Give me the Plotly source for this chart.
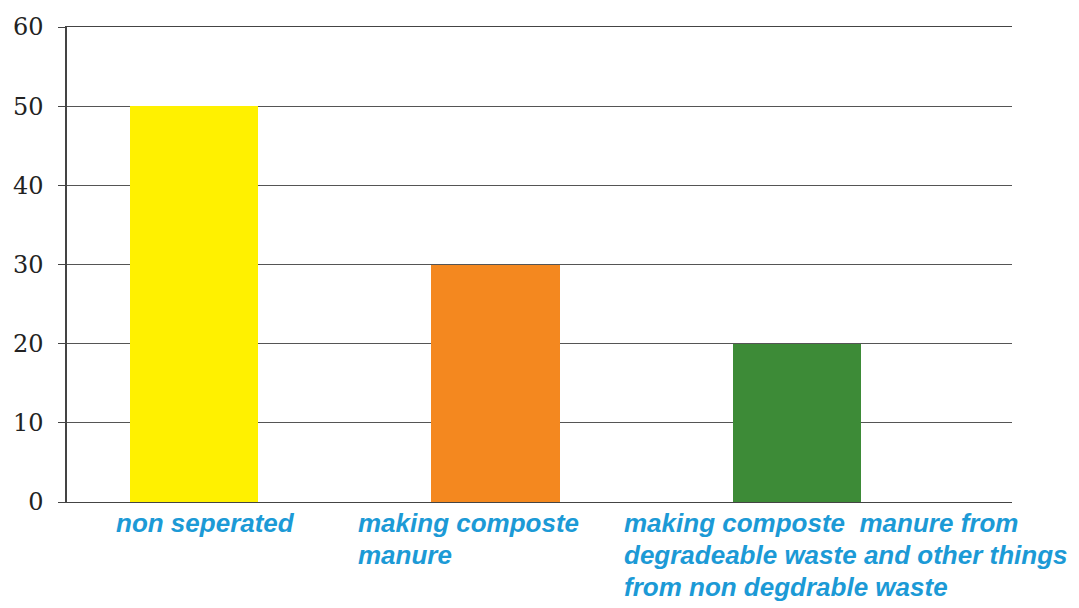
import plotly.graph_objects as go

categories = ["non seperated",
              "making composte<br>manure",
              "making composte  manure from<br>degradeable waste and other things<br>from non degdrable waste"]
values = [50, 30, 20]
bar_colors = ["#FFF100", "#F4881F", "#3D8B37"]
y_ticks = [0, 10, 20, 30, 40, 50, 60]

idx = list(range(len(categories)))

fig = go.Figure()
fig.add_trace(go.Bar(
    x=idx, y=values, marker=dict(color=bar_colors, line=dict(width=0)),
    width=0.425, showlegend=False, hoverinfo="y",
))

label_xshift = [-80, -139, -175]
line_gap = 32
first_line_offset = 21
for i, lab in enumerate(categories):
    for j, line in enumerate(lab.split("<br>")):
        fig.add_annotation(
            x=idx[i], xref="x", y=0, yref="paper",
            text="<b><i>" + line + "</i></b>", showarrow=False,
            xanchor="left", yanchor="middle", align="left",
            xshift=label_xshift[i], yshift=-(first_line_offset + j * line_gap),
            font=dict(family="Liberation Sans, Arial", size=26, color="#1C9AD6"),
        )

fig.update_layout(
    width=1079, height=608,
    margin=dict(l=67, r=67, t=27, b=106),
    paper_bgcolor="white", plot_bgcolor="white",
    bargap=0,
)
fig.update_xaxes(
    type="linear", range=[-0.421, 2.713], showgrid=False, showticklabels=False,
    zeroline=False, showline=True, mirror=True, linecolor="#444", linewidth=1.4, ticks="",
)
fig.update_yaxes(
    range=[0, 60], tickvals=y_ticks, showgrid=True, gridcolor="#555", gridwidth=1.3,
    zeroline=False, showline=True, linecolor="#444", linewidth=1.5,
    ticks="outside", ticklen=7, tickcolor="#444", tickwidth=1.3,
    tickfont=dict(family="DejaVu Serif", size=24, color="#222"),
    ticklabelstandoff=10,
)

fig.write_html("out.html")
